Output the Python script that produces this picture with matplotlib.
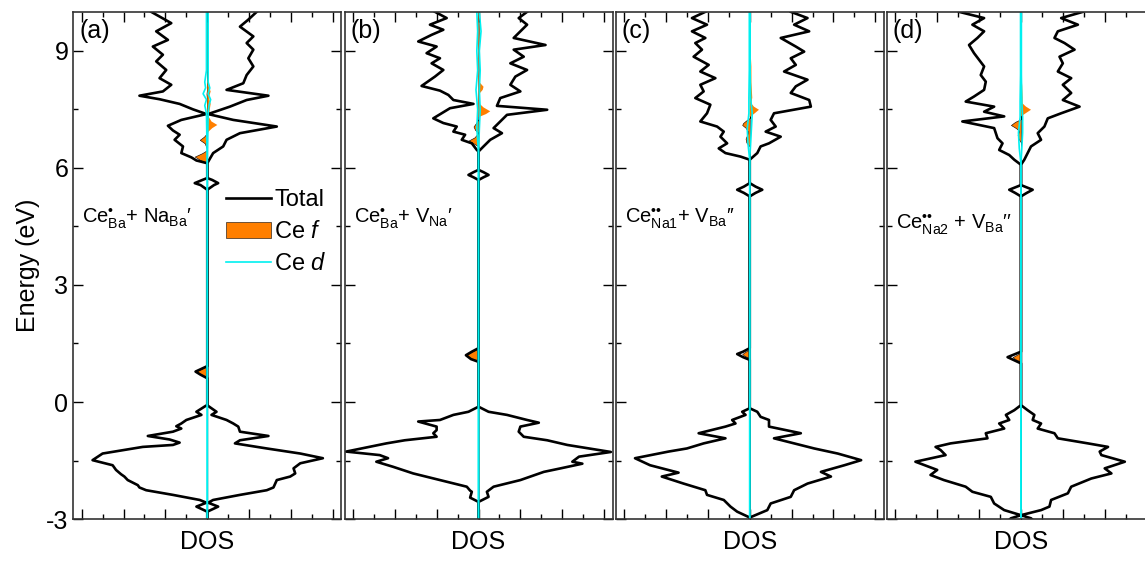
import numpy as np
import matplotlib.pyplot as plt
from matplotlib.ticker import MultipleLocator

plt.rcParams['font.family'] = ['Liberation Sans', 'DejaVu Sans']
plt.rcParams['mathtext.fontset'] = 'custom'
plt.rcParams['mathtext.rm'] = 'Liberation Sans'
plt.rcParams['mathtext.it'] = 'Liberation Sans:italic'
plt.rcParams['axes.unicode_minus'] = False

# ---- data (energy in eV, DOS in arb. units) ----
# spin up is drawn to the left (negative), spin down to the right

# (a) Ce_Ba + Na_Ba
a_up_E = [-3.0, -2.90, -2.81, -2.68, -2.58, -2.51, -2.38, -2.26, -2.19, -2.13, -2.00, -1.91, -1.85,
          -1.74, -1.62, -1.49, -1.32, -1.15, -1.10, -1.04, -0.96, -0.87, -0.76, -0.68, -0.62, -0.55,
          -0.46, -0.33, -0.25, -0.10, -0.08,
          0.61, 0.70, 0.78, 0.85, 0.92,
          5.44, 5.56, 5.61, 5.69, 5.74,
          6.12, 6.19, 6.27, 6.38, 6.55, 6.72, 6.85, 6.96, 7.08, 7.23, 7.38, 7.50, 7.64, 7.76, 7.85,
          7.96, 8.13, 8.30, 8.51, 8.73, 8.90, 9.11, 9.28, 9.50, 9.71, 10.0]
a_up = [0, 0, 0, -1.3, -0.1, -0.9, -4.1, -7.3, -8.1, -8.3, -9.5, -9.9, -10.3,
        -10.9, -11.3, -13.7, -12.5, -7.7, -4.1, -3.3, -4.5, -7.1, -4.1, -3.1, -3.7, -3.1,
        -2.5, -0.7, -1.3, -0.2, 0,
        0, -0.8, -1.4, -0.7, 0,
        0, -0.8, -1.5, -0.6, 0,
        0, -1.3, -1.9, -3.1, -2.9, -3.9, -3.3, -4.1, -4.7, -3.1, -0.1, -1.7, -3.3, -5.7, -8.1,
        -5.3, -4.3, -5.7, -4.9, -6.1, -5.3, -6.5, -4.7, -6.1, -4.3, -6.7]
a_dn_E = [-3.0, -2.81, -2.68, -2.58, -2.51, -2.38, -2.26, -2.19, -2.00, -1.91, -1.83, -1.70, -1.57,
          -1.44, -1.32, -1.19, -1.06, -0.98, -0.87, -0.76, -0.63, -0.55, -0.46, -0.33, -0.25, -0.10, -0.08,
          5.44, 5.56, 5.61, 5.69, 5.74,
          6.12, 6.38, 6.55, 6.72, 6.89, 7.06, 7.23, 7.38, 7.57, 7.74, 7.85, 8.00, 8.17, 8.38, 8.60,
          8.81, 9.03, 9.20, 9.37, 9.62, 9.80, 10.0]
a_dn = [0, 0, 1.3, 0.1, 0.7, 3.9, 7.1, 7.9, 8.3, 9.9, 10.5, 10.3, 11.1,
        13.8, 11.1, 7.1, 3.3, 3.9, 7.3, 3.9, 3.7, 3.1, 2.3, 0.5, 1.1, 0.1, 0,
        0, 0.8, 1.3, 0.6, 0,
        0, 0.7, 1.9, 2.3, 3.9, 8.3, 3.1, 0.1, 2.7, 4.7, 7.3, 2.3, 4.3, 4.7, 5.5,
        4.9, 5.5, 4.7, 5.5, 3.9, 4.9, 5.9]
a_f_up_E = [-3.0, 0.61, 0.70, 0.78, 0.85, 0.92, 6.12, 6.21, 6.29, 6.38, 6.46, 6.63, 6.72, 6.80, 6.90, 7.6, 7.9, 8.1, 10.0]
a_f_up = [0, 0, -0.8, -1.4, -0.7, 0, 0, -0.9, -1.5, -0.6, 0, -0.3, -0.9, -0.4, 0, 0, -0.1, 0, 0]
a_f_dn_E = [-3.0, 6.90, 7.02, 7.10, 7.19, 7.30, 7.50, 7.64, 7.80, 7.96, 8.13, 8.30, 10.0]
a_f_dn = [0, 0, 0.6, 1.2, 0.5, 0.2, 0.3, 0.4, 0.2, 0.4, 0.1, 0.05, 0.05]
a_d_E = [-3.0, 6.1, 7.4, 7.6, 7.75, 7.9, 8.05, 8.2, 8.5, 9.0, 10.0]
a_d_up = [0, 0, -0.1, -0.3, -0.1, -0.5, -0.2, -0.3, -0.1, -0.1, -0.1]
a_d_dn = [0, 0, 0.1, 0.2, 0.4, 0.1, 0.3, 0.1, 0.1, 0.1, 0.1]

# (b) Ce_Ba + V_Na
b_up_E = [-3.0, -2.56, -2.45, -2.30, -2.27, -2.17, -2.00, -1.83, -1.66, -1.53, -1.44, -1.36, -1.27,
          -1.06, -0.98, -0.89, -0.80, -0.72, -0.63, -0.50, -0.46, -0.33, -0.25, -0.12,
          1.03, 1.10, 1.20, 1.29, 1.38,
          5.69, 5.76, 5.82, 5.89, 5.95,
          6.42, 6.46, 6.63, 6.72, 6.85, 6.93, 7.06, 7.15, 7.27, 7.53, 7.64, 7.74, 7.87, 7.98, 8.10,
          8.34, 8.51, 8.68, 8.81, 8.94, 9.11, 9.24, 9.41, 9.54, 9.67, 9.84, 10.0]
b_up = [0, 0, -1.0, -0.8, -1.0, -1.4, -4.6, -7.8, -10.2, -12.2, -10.8, -11.8, -15.8,
        -11.0, -8.8, -5.0, -5.4, -5.0, -5.0, -7.2, -4.6, -3.0, -1.2, 0,
        0, -0.9, -1.5, -0.8, 0,
        0, -0.6, -1.2, -0.6, 0,
        0, -0.2, -0.8, -2.0, -1.6, -3.0, -2.6, -4.2, -5.4, -3.4, -0.6, -3.0, -3.6, -4.6, -6.8,
        -5.2, -4.2, -5.6, -4.6, -6.2, -5.0, -7.2, -5.6, -4.2, -5.8, -3.8, -5.2]
b_dn_E = [-3.0, -2.56, -2.43, -2.30, -2.17, -2.00, -1.79, -1.70, -1.58, -1.53, -1.40, -1.28, -1.10,
          -0.98, -0.89, -0.76, -0.63, -0.53, -0.46, -0.33, -0.25, -0.12,
          5.69, 5.76, 5.82, 5.89, 5.95,
          6.42, 6.55, 6.72, 6.89, 7.02, 7.19, 7.36, 7.49, 7.59, 7.79, 7.96, 8.13, 8.34, 8.51, 8.68,
          8.85, 9.03, 9.15, 9.33, 9.50, 9.67, 9.84, 10.0]
b_dn = [0, 0, 1.2, 1.0, 1.8, 5.0, 7.8, 9.8, 12.4, 11.2, 12.0, 15.8, 10.6,
        8.2, 5.4, 4.8, 5.0, 7.2, 5.8, 3.4, 1.2, 0,
        0, 0.6, 1.2, 0.6, 0,
        0, 0.6, 1.4, 2.8, 1.8, 2.6, 3.4, 8.2, 2.2, 2.6, 5.0, 3.8, 4.4, 5.8, 3.8,
        5.4, 4.2, 8.0, 4.2, 5.0, 5.8, 4.8, 5.8]
b_f_up_E = [-3.0, 1.03, 1.10, 1.20, 1.29, 1.38, 6.55, 6.63, 6.70, 6.78, 6.90, 6.97, 7.06, 7.15, 7.25, 10.0]
b_f_up = [0, 0, -0.9, -1.5, -0.8, 0, 0, -0.6, -1.2, -0.5, 0, -0.4, -0.6, -0.3, 0, 0]
b_f_dn_E = [-3.0, 7.30, 7.38, 7.45, 7.55, 7.65, 7.9, 8.0, 8.08, 8.2, 8.5, 9.0, 9.5, 10.0]
b_f_dn = [0, 0, 0.9, 1.4, 0.6, 0.1, 0.1, 0.5, 0.6, 0.1, 0.1, 0.15, 0.1, 0.1]
b_d_E = [-3.0, 6.4, 7.0, 7.5, 8.0, 8.5, 9.0, 9.5, 10.0]
b_d_up = [0, 0, -0.2, -0.1, -0.3, -0.1, -0.2, -0.1, -0.2]
b_d_dn = [0, 0, 0.1, 0.2, 0.1, 0.2, 0.1, 0.3, 0.1]

# (c) Ce_Na1 + V_Ba
c_up_E = [-3.0, -2.96, -2.81, -2.68, -2.51, -2.38, -2.26, -2.09, -1.91, -1.81, -1.62, -1.44, -1.27,
          -1.19, -1.06, -0.93, -0.80, -0.63, -0.55, -0.46, -0.33, -0.25, -0.16,
          1.08, 1.15, 1.23, 1.29, 1.38,
          5.27, 5.36, 5.44, 5.52, 5.61,
          6.21, 6.29, 6.38, 6.50, 6.63, 6.80, 6.93, 7.06, 7.19, 7.40, 7.62, 7.79, 7.96, 8.13, 8.30,
          8.47, 8.64, 8.85, 9.03, 9.20, 9.33, 9.50, 9.67, 9.84, 10.0]
c_up = [0, 0, -1.5, -2.3, -3.1, -5.1, -5.3, -7.9, -10.5, -8.5, -11.9, -13.7, -9.7,
        -7.5, -5.5, -2.9, -6.1, -2.9, -1.7, -2.1, -0.5, -0.9, 0,
        0, -0.8, -1.5, -0.8, 0,
        0, -0.7, -1.5, -0.7, 0,
        0, -1.1, -2.9, -3.7, -2.7, -3.5, -3.1, -3.9, -5.9, -5.1, -4.7, -6.5, -5.5, -5.9, -4.1,
        -5.9, -4.9, -6.7, -5.7, -6.5, -5.3, -6.9, -5.1, -6.9, -5.3]
c_dn_E = [-3.0, -2.96, -2.77, -2.60, -2.43, -2.26, -2.09, -1.91, -1.79, -1.62, -1.49, -1.32, -1.19,
          -1.06, -0.93, -0.80, -0.63, -0.46, -0.38, -0.25, -0.16,
          5.27, 5.36, 5.44, 5.52, 5.61,
          6.21, 6.38, 6.55, 6.63, 6.80, 6.93, 7.06, 7.23, 7.40, 7.57, 7.74, 7.92, 8.09, 8.26, 8.47,
          8.64, 8.81, 8.98, 9.11, 9.33, 9.50, 9.67, 9.84, 10.0]
c_dn = [0, 0, 2.1, 2.5, 4.9, 5.3, 6.9, 9.7, 8.5, 11.3, 13.3, 10.5, 7.7,
        5.3, 2.9, 6.1, 2.3, 2.3, 1.3, 0.9, 0,
        0, 0.7, 1.5, 0.7, 0,
        0, 0.9, 1.3, 2.3, 3.7, 1.9, 3.1, 2.5, 2.9, 7.3, 7.1, 4.9, 5.5, 6.9, 4.1,
        5.5, 4.9, 6.5, 5.5, 3.7, 7.1, 5.3, 6.9, 4.9]
c_f_up_E = [-3.0, 1.12, 1.18, 1.23, 1.29, 1.35, 6.55, 6.65, 6.75, 6.85, 6.93, 7.03, 7.10, 7.15, 7.22, 7.28, 10.0]
c_f_up = [0, 0, -0.6, -0.9, -0.5, 0, 0, -0.4, -0.5, -0.3, -0.2, -0.5, -0.9, -0.8, -0.4, 0, 0]
c_f_dn_E = [-3.0, 7.30, 7.40, 7.49, 7.57, 7.65, 7.8, 8.2, 8.6, 9.0, 10.0]
c_f_dn = [0, 0, 0.6, 1.1, 0.5, 0.2, 0.3, 0.2, 0.2, 0.1, 0.05]
c_d_E = [-3.0, 6.2, 6.6, 7.0, 7.4, 7.8, 8.5, 9.2, 10.0]
c_d_up = [0, 0, -0.2, -0.3, -0.1, -0.1, -0.05, -0.05, -0.05]
c_d_dn = [0, 0, 0.1, 0.2, 0.3, 0.1, 0.05, 0.05, 0.05]

# (d) Ce_Na2 + V_Ba
d_up_E = [-3.0, -2.98, -2.90, -2.77, -2.60, -2.43, -2.30, -2.17, -2.00, -1.87, -1.74, -1.53, -1.36,
          -1.23, -1.15, -1.06, -0.93, -0.80, -0.68, -0.55, -0.46, -0.33, -0.21, -0.08,
          0.99, 1.07, 1.15, 1.22, 1.29,
          5.27, 5.36, 5.44, 5.50, 5.56,
          6.08, 6.21, 6.33, 6.46, 6.63, 6.76, 6.89, 7.02, 7.19, 7.32, 7.44, 7.57, 7.70, 7.83, 8.00,
          8.21, 8.38, 8.60, 8.77, 8.94, 9.15, 9.33, 9.50, 9.67, 9.84, 10.0]
d_up = [-1.3, -1.2, 0, -2.0, -3.2, -3.6, -5.8, -6.6, -9.2, -10.8, -10.0, -12.6, -9.0,
        -9.6, -10.2, -8.4, -4.0, -4.2, -2.0, -2.6, -1.4, -1.8, -0.8, 0,
        0, -0.8, -1.6, -0.8, 0,
        0, -0.7, -1.4, -0.7, 0,
        0, -0.8, -1.4, -2.6, -2.2, -2.8, -3.0, -3.2, -7.0, -2.0, -4.4, -3.2, -6.6, -5.6, -4.4,
        -4.2, -4.8, -4.4, -5.0, -5.6, -6.2, -5.2, -4.4, -5.8, -4.4, -7.4]
d_dn_E = [-3.0, -2.98, -2.90, -2.77, -2.68, -2.51, -2.34, -2.17, -1.96, -1.83, -1.70, -1.53, -1.36,
          -1.27, -1.15, -1.06, -0.93, -0.80, -0.68, -0.55, -0.46, -0.33, -0.21, -0.08,
          5.27, 5.36, 5.44, 5.50, 5.56,
          6.08, 6.21, 6.38, 6.55, 6.72, 6.89, 7.06, 7.27, 7.40, 7.57, 7.74, 7.92, 8.13, 8.30, 8.47,
          8.68, 8.85, 9.03, 9.20, 9.33, 9.50, 9.67, 9.84, 10.0]
d_dn = [1.3, 1.2, 0, 2.4, 3.4, 3.6, 5.6, 6.0, 8.4, 10.8, 10.0, 12.4, 9.6,
        9.4, 10.4, 8.0, 4.4, 4.0, 2.0, 2.4, 1.4, 1.6, 0.8, 0,
        0, 0.7, 1.4, 0.7, 0,
        0, 0.4, 0.8, 1.2, 2.4, 2.0, 2.8, 3.2, 4.8, 7.0, 5.0, 6.0, 5.0, 6.0, 4.4,
        5.0, 4.6, 6.4, 5.2, 4.0, 4.4, 6.8, 4.8, 7.4]
d_f_up_E = [-3.0, 1.03, 1.09, 1.15, 1.21, 1.27, 6.65, 6.75, 6.85, 6.95, 7.02, 7.10, 7.18, 7.25, 10.0]
d_f_up = [0, 0, -0.6, -1.0, -0.5, 0, 0, -0.3, -0.4, -0.2, -0.6, -1.2, -0.7, 0, 0]
d_f_dn_E = [-3.0, 7.32, 7.42, 7.49, 7.57, 7.65, 7.8, 8.1, 8.4, 10.0]
d_f_dn = [0, 0, 0.7, 1.2, 0.6, 0.2, 0.2, 0.15, 0.05, 0]
d_d_E = [-3.0, 6.1, 6.5, 6.9, 7.3, 7.7, 8.4, 9.2, 10.0]
d_d_up = [0, 0, -0.2, -0.3, -0.1, -0.1, -0.05, -0.05, -0.05]
d_d_dn = [0, 0, 0.1, 0.2, 0.2, 0.1, 0.05, 0.05, 0.05]

panel_tags = ['(a)', '(b)', '(c)', '(d)']
defect_labels = [r'Ce$_{\rm Ba}^{•}$+ Na$_{\rm Ba}$′',
                 r'Ce$_{\rm Ba}^{•}$+ V$_{\rm Na}$′',
                 r'Ce$_{\rm Na1}^{••}$+ V$_{\rm Ba}$′′',
                 r'Ce$_{\rm Na2}^{••}$ + V$_{\rm Ba}$′′']
label_E = [4.58, 4.58, 4.58, 4.42]

panels = [
    (a_up_E, a_up, a_dn_E, a_dn, a_f_up_E, a_f_up, a_f_dn_E, a_f_dn, a_d_E, a_d_up, a_d_dn),
    (b_up_E, b_up, b_dn_E, b_dn, b_f_up_E, b_f_up, b_f_dn_E, b_f_dn, b_d_E, b_d_up, b_d_dn),
    (c_up_E, c_up, c_dn_E, c_dn, c_f_up_E, c_f_up, c_f_dn_E, c_f_dn, c_d_E, c_d_up, c_d_dn),
    (d_up_E, d_up, d_dn_E, d_dn, d_f_up_E, d_f_up, d_f_dn_E, d_f_dn, d_d_E, d_d_up, d_d_dn),
]

orange = '#FF7F00'
cyan = '#00F0F0'

fig, axes = plt.subplots(1, 4, figsize=(11.45, 5.63), dpi=100, sharey=True)
fig.subplots_adjust(left=0.064, right=1.0087, bottom=0.078, top=0.979, wspace=0.012)

for i, ax in enumerate(axes):
    upE, up, dnE, dn, fuE, fu, fdE, fd, dE, du, dd = panels[i]
    l_tot, = ax.plot(up, upE, color='k', lw=1.9, label='Total')
    ax.plot(dn, dnE, color='k', lw=1.9)
    p_f = ax.fill_betweenx(fuE, fu, 0, facecolor=orange, edgecolor='k', lw=0.4, label='Ce $f$')
    ax.fill_betweenx(fdE, fd, 0, facecolor=orange, edgecolor='none')
    l_d, = ax.plot(du, dE, color=cyan, lw=1.2, label='Ce $d$')
    ax.plot(dd, dE, color=cyan, lw=1.2)

    ax.set_xlim(-16, 16)
    ax.set_ylim(-3, 10)
    ax.xaxis.set_major_locator(MultipleLocator(5))
    ax.xaxis.set_minor_locator(MultipleLocator(2.5))
    ax.yaxis.set_major_locator(MultipleLocator(3))
    ax.yaxis.set_minor_locator(MultipleLocator(1.5))
    ax.tick_params(which='both', direction='in', top=True, right=True, width=1.0, labelsize=18)
    ax.tick_params(which='major', length=7)
    ax.tick_params(which='minor', length=3.5)
    ax.set_xticklabels([])
    for s in ax.spines.values():
        s.set_linewidth(1.2)
        s.set_color('#333333')

    ax.set_xlabel('DOS', fontsize=18, labelpad=4)
    ax.text(0.022, 0.985, panel_tags[i], transform=ax.transAxes, fontsize=18, va='top', ha='left')
    ax.text(-14.9, label_E[i], defect_labels[i], fontsize=14.5, va='baseline', ha='left')

    if i == 0:
        ax.set_ylabel('Energy (eV)', fontsize=18, labelpad=4)
        ax.legend([l_tot, p_f, l_d], ['Total', 'Ce $f$', 'Ce $d$'], loc='upper left',
                  bbox_to_anchor=(0.57, 0.65), frameon=False, fontsize=17,
                  handlelength=1.9, handletextpad=0.15, labelspacing=0.42,
                  borderpad=0, borderaxespad=0)

fig.savefig('out.png', dpi=100)
